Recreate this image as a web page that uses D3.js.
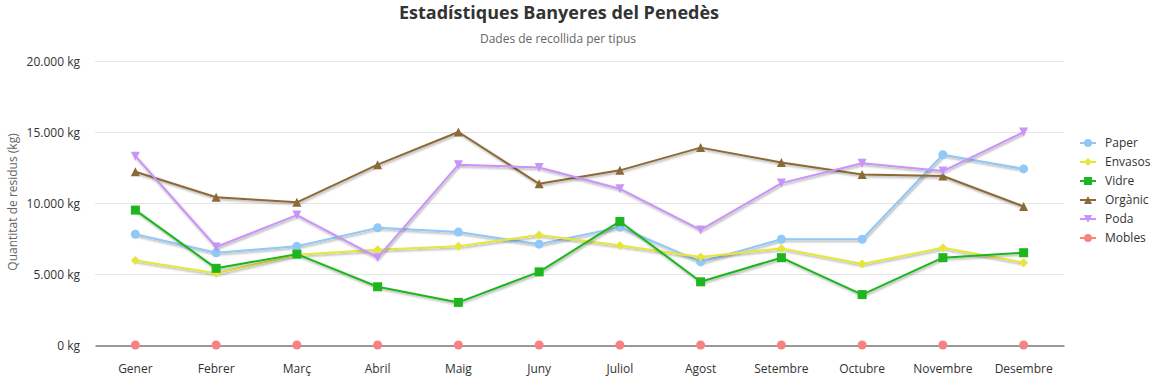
<!DOCTYPE html>
<html><head><meta charset="utf-8">
<script src="https://cdn.jsdelivr.net/npm/d3@7/dist/d3.min.js"></script>
<style>
html,body{margin:0;padding:0;background:#fff;}
svg{display:block;font-family:"Open Sans",sans-serif;}
</style></head>
<body><svg id="c" width="1158" height="379"></svg>
<script>
const months = ["Gener","Febrer","Març","Abril","Maig","Juny","Juliol","Agost","Setembre","Octubre","Novembre","Desembre"];
const seriesNames = ["Paper","Envasos","Vidre","Orgànic","Poda","Mobles"];
const seriesColors = ["#90c8f8","#e6e63a","#1fb51f","#8b6a38","#c994f8","#f88282"];
const seriesSymbols = ["circle","diamond","square","triangle","triangle-down","circle"];
const paper   = [7800,6500,6950,8250,7950,7100,8300,5850,7450,7450,13400,12400];
const envasos = [5950,5050,6350,6700,6950,7750,7000,6200,6800,5700,6850,5800];
const vidre   = [9500,5400,6400,4100,3000,5150,8700,4450,6150,3550,6150,6500];
const organic = [12200,10400,10050,12700,15000,11350,12300,13900,12850,12000,11900,9750];
const poda    = [13300,6900,9150,6150,12700,12500,11000,8100,11400,12800,12250,15000];
const mobles  = [0,0,0,0,0,0,0,0,0,0,0,0];
const yTicks = [0,5000,10000,15000,20000];
const values = [paper,envasos,vidre,organic,poda,mobles];

const svg = d3.select("#c");
const L=95, R=1064, T=61, B=345;
const x = d3.scaleBand().domain(months).range([L,R]);
const y = d3.scaleLinear().domain([0,20000]).range([B,T]);
const cx = m => x(m)+x.bandwidth()/2;
const fmt = v => d3.format(",")(v).replace(/,/g,".")+" kg";

const defs = svg.append("defs");
const f = defs.append("filter").attr("id","sh").attr("x","-5%").attr("y","-20%").attr("width","110%").attr("height","140%");
f.append("feDropShadow").attr("dx",1).attr("dy",1.5).attr("stdDeviation",1.3).attr("flood-color","#000").attr("flood-opacity",0.35);

// title
svg.append("text").attr("x",559).attr("y",18.5).attr("text-anchor","middle")
  .attr("font-size","18px").attr("font-weight","bold").attr("fill","#333").text("Estadístiques Banyeres del Penedès");
svg.append("text").attr("x",558).attr("y",43).attr("text-anchor","middle")
  .attr("font-size","12px").attr("fill","#666").text("Dades de recollida per tipus");

// grid
svg.append("g").selectAll("line").data(yTicks.filter(d=>d>0)).join("line")
  .attr("x1",L).attr("x2",R).attr("y1",d=>y(d)+0.5).attr("y2",d=>y(d)+0.5)
  .attr("stroke","#e6e6e6").attr("stroke-width",1);

// y axis
const ya = svg.append("g").attr("transform",`translate(${L},0)`)
  .call(d3.axisLeft(y).tickValues(yTicks).tickFormat(fmt).tickSize(0).tickPadding(15));
ya.select(".domain").remove();
ya.selectAll("text").attr("font-family","Open Sans").attr("font-size","12px").attr("fill","#333").attr("dy","0.35em");

svg.append("text").attr("transform","translate(17,202) rotate(-90)").attr("text-anchor","middle")
  .attr("font-size","12px").attr("fill","#666").text("Quantitat de residus (kg)");

// x axis
const xa = svg.append("g").attr("transform",`translate(0,${B+0.5})`)
  .call(d3.axisBottom(x).tickSize(0).tickPadding(19));
xa.select(".domain").attr("stroke","#333").attr("stroke-width",1);
xa.selectAll("text").attr("font-family","Open Sans").attr("font-size","12px").attr("fill","#333");

// symbols
function sym(g, type, px, py, color, r){
  r = r||4.5;
  if(type==="circle") g.append("circle").attr("cx",px).attr("cy",py).attr("r",r).attr("fill",color);
  else if(type==="square") g.append("rect").attr("x",px-r).attr("y",py-r).attr("width",2*r).attr("height",2*r).attr("fill",color);
  else {
    let pts;
    if(type==="diamond") pts=[[px,py-r],[px+r,py],[px,py+r],[px-r,py]];
    else if(type==="triangle") pts=[[px,py-r],[px+r,py+r],[px-r,py+r]];
    else pts=[[px-r,py-r],[px+r,py-r],[px,py+r]];
    g.append("path").attr("d","M"+pts.map(p=>p.join(",")).join("L")+"Z").attr("fill",color);
  }
}

const line = d3.line().x((d,i)=>cx(months[i])).y(d=>y(d));
seriesNames.forEach((n,si)=>{
  const g = svg.append("g");
  g.append("path").datum(values[si]).attr("d",line).attr("fill","none")
    .attr("stroke",seriesColors[si]).attr("stroke-width",2).attr("stroke-linejoin","round").attr("filter","url(#sh)");
  values[si].forEach((v,i)=>sym(g, seriesSymbols[si], cx(months[i]), y(v), seriesColors[si]));
});

// legend
const lg = svg.append("g");
seriesNames.forEach((n,si)=>{
  const yy = 143 + si*19;
  lg.append("line").attr("x1",1080).attr("x2",1096).attr("y1",yy).attr("y2",yy).attr("stroke",seriesColors[si]).attr("stroke-width",2);
  sym(lg, seriesSymbols[si], 1088, yy, seriesColors[si], 4);
  lg.append("text").attr("x",1105).attr("y",yy).attr("dy","0.35em").attr("font-size","12px").attr("fill","#333").text(n);
});
</script></body></html>
